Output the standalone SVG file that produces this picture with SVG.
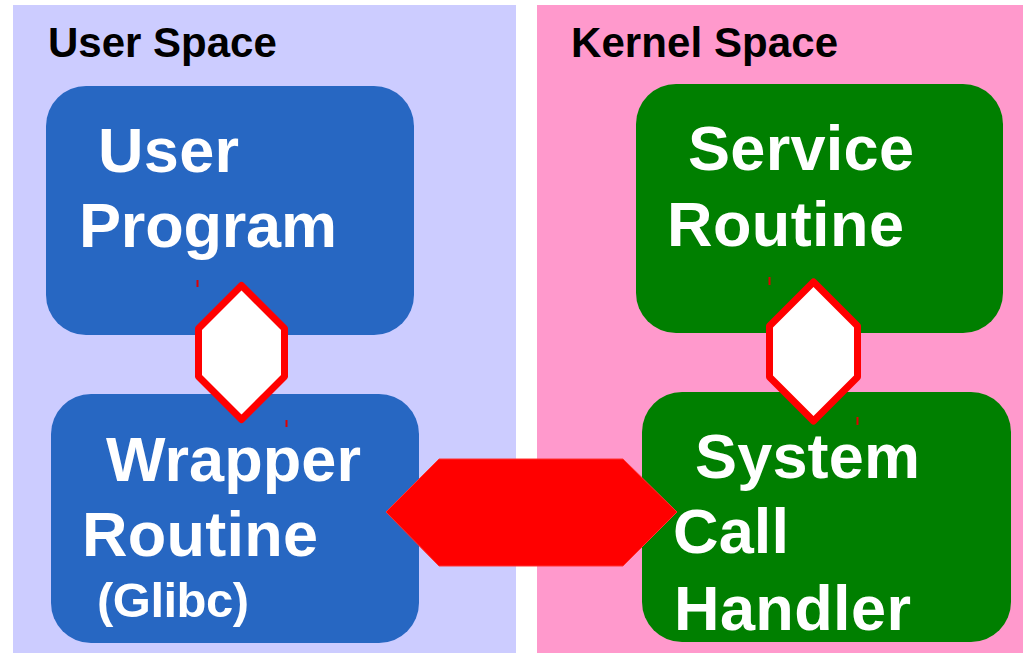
<svg xmlns="http://www.w3.org/2000/svg" width="1023" height="653" viewBox="0 0 1023 653">
  <style>
    .title { font-family: "Liberation Sans", Arial, sans-serif; font-weight: bold; font-size: 42px; fill: #000000; }
    .label { font-family: "Liberation Sans", Arial, sans-serif; font-weight: bold; font-size: 63px; fill: #ffffff; }
    .small { font-size: 49px; }
    .user { fill: #2767c2; }
    .kernel { fill: #007f00; }
    .link { fill: #ffffff; stroke: #ff0000; stroke-width: 7; stroke-linejoin: round; }
    .bridge { fill: #ff0000; stroke: #ff3333; stroke-width: 1; }
    .tick { stroke: #e00000; stroke-width: 2; }
  </style>

  <rect width="1023" height="653" fill="#ffffff"/>

  <!-- address space panels -->
  <g id="user-space">
    <rect x="13" y="5" width="503" height="648" fill="#ccccff"/>
    <text class="title" x="48" y="57">User Space</text>
  </g>
  <g id="kernel-space">
    <rect x="537" y="5" width="486" height="648" fill="#ff99cc"/>
    <text class="title" x="571" y="57" textLength="267">Kernel Space</text>
  </g>

  <g id="user-program">
    <rect class="user" x="46" y="86" width="368" height="249" rx="40" ry="40"/>
    <text class="label" x="98" y="172" textLength="141">User</text>
    <text class="label" x="79" y="247" textLength="258">Program</text>
  </g>

  <g id="wrapper-routine">
    <rect class="user" x="51" y="394" width="368" height="249" rx="40" ry="40"/>
    <text class="label" x="106" y="481" textLength="255">Wrapper</text>
    <text class="label" x="82" y="556" textLength="236">Routine</text>
    <text class="label small" x="97" y="617" textLength="152">(Glibc)</text>
  </g>

  <g id="service-routine">
    <rect class="kernel" x="636" y="84" width="367" height="249" rx="40" ry="40"/>
    <text class="label" x="688" y="170" textLength="226">Service</text>
    <text class="label" x="667" y="246" textLength="237">Routine</text>
  </g>

  <g id="system-call-handler">
    <rect class="kernel" x="642" y="392" width="369" height="250" rx="40" ry="40"/>
    <text class="label" x="695" y="478" textLength="225">System</text>
    <text class="label" x="673" y="553" textLength="116">Call</text>
    <text class="label" x="674" y="630" textLength="237">Handler</text>
  </g>

  <!-- connectors -->
  <g id="connectors">
    <polygon class="link" points="241.5,285.5 284.5,328.5 284.5,376.5 241.5,419.5 198.5,376.5 198.5,328.5"/>
    <line class="tick" x1="197.5" y1="280" x2="197.5" y2="287"/>
    <line class="tick" x1="286.5" y1="420" x2="286.5" y2="427"/>

    <polygon class="link" points="813.5,282 857.5,326 857.5,377 813.5,421 769.5,377 769.5,326"/>
    <line class="tick" x1="769.5" y1="277" x2="769.5" y2="285"/>
    <line class="tick" x1="857.5" y1="417" x2="857.5" y2="425"/>

    <polygon class="bridge" points="386,512 439,459 623,459 677,512 623,566 439,566"/>
  </g>
</svg>
